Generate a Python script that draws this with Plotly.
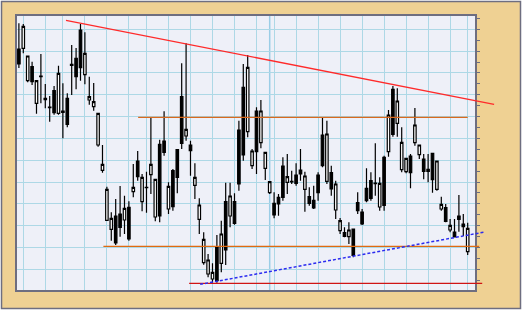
import plotly.graph_objects as go

# ---- data (price units; daily candles, index = trading day) ----
opens = [79.5, 79.7, 70.0, 74.2, 63.2, 71.4, 64.7, 62.1, 67.0, 60.2,
         60.9, 64.7, 74.9, 76.7, 85.2, 71.8, 64.2, 62.2, 50.7, 43.1,
         28.1, 25.4, 29.4, 30.0, 28.2, 32.0, 36.7, 45.9, 33.7, 38.0,
         41.8, 29.1, 50.9, 51.9, 31.5, 43.0, 49.3, 65.2, 53.4, 50.7,
         38.6, 28.4, 15.4, 12.0, 10.5, 20.2, 15.2, 33.7, 29.4, 33.7,
         55.2, 68.0, 54.7, 44.5, 60.9, 51.4, 43.7, 36.4, 33.2, 35.0,
         44.4, 39.5, 39.8, 41.7, 43.2, 37.4, 35.2, 34.1, 41.7, 53.7,
         39.8, 42.4, 31.2, 25.0, 24.4, 23.2, 25.5, 33.4, 30.6, 37.7,
         40.0, 39.3, 32.1, 47.0, 48.7, 67.4, 57.2, 43.3, 42.7, 47.4,
         51.4, 47.8, 46.5, 42.8, 48.2, 37.4, 31.5, 31.9, 25.2, 24.6,
         29.4, 27.0, 18.7]
highs = [87.2, 87.0, 77.5, 75.7, 70.2, 78.0, 69.0, 65.4, 68.4, 74.5,
         69.2, 66.2, 80.7, 79.8, 87.0, 84.5, 71.2, 69.3, 60.2, 50.7,
         38.2, 30.5, 34.5, 38.4, 35.5, 33.8, 45.0, 48.9, 42.0, 42.7,
         58.9, 40.4, 52.3, 60.8, 39.5, 43.5, 49.5, 75.2, 81.2, 52.0,
         45.2, 34.7, 24.5, 18.0, 15.2, 23.7, 28.0, 39.4, 39.4, 36.2,
         58.0, 75.0, 77.7, 49.5, 62.0, 64.2, 48.5, 39.8, 36.5, 36.0,
         47.0, 48.0, 43.0, 45.2, 49.5, 42.7, 38.0, 38.5, 42.5, 59.0,
         58.0, 44.5, 40.0, 28.8, 26.0, 27.5, 25.6, 36.5, 31.5, 43.7,
         42.5, 51.2, 41.0, 47.5, 61.2, 68.4, 67.7, 56.0, 46.8, 48.0,
         61.8, 50.7, 48.0, 48.0, 48.3, 45.9, 35.2, 33.0, 28.5, 28.5,
         35.7, 30.0, 27.4]
lows = [73.8, 78.2, 69.5, 68.7, 60.1, 63.2, 61.7, 57.7, 59.8, 59.8,
        52.7, 56.0, 65.7, 67.4, 70.0, 68.9, 62.8, 61.0, 50.2, 42.4,
        28.0, 22.0, 20.7, 23.2, 24.0, 22.0, 35.0, 40.0, 30.8, 30.4,
        36.0, 27.8, 27.5, 47.5, 30.0, 31.0, 36.2, 49.5, 52.0, 41.5,
        34.5, 24.0, 14.8, 11.0, 9.4, 9.4, 12.5, 14.7, 26.0, 26.8,
        37.0, 46.0, 53.0, 43.5, 42.0, 49.7, 40.2, 36.0, 28.7, 29.5,
        34.0, 36.0, 39.0, 38.5, 40.0, 30.7, 32.5, 31.5, 34.0, 44.0,
        39.0, 35.5, 28.5, 24.0, 23.0, 21.0, 17.0, 30.0, 26.7, 33.5,
        34.0, 35.5, 31.0, 31.0, 47.2, 53.2, 53.2, 42.5, 42.2, 37.7,
        50.5, 46.5, 40.4, 39.5, 36.4, 37.0, 31.0, 27.5, 24.5, 23.0,
        24.7, 23.4, 17.7]
closes = [75.0, 86.3, 77.4, 69.7, 70.0, 71.2, 64.3, 61.9, 60.4, 72.2,
          60.5, 56.9, 74.6, 71.2, 73.9, 78.2, 65.2, 63.7, 60.2, 44.9,
          37.4, 28.7, 21.3, 26.0, 31.7, 22.5, 38.0, 41.2, 41.0, 37.9,
          44.9, 40.4, 29.4, 48.5, 38.3, 32.2, 41.0, 51.2, 55.4, 49.0,
          41.0, 32.7, 22.4, 16.2, 12.5, 10.0, 24.0, 19.2, 35.4, 27.2,
          39.0, 47.7, 74.0, 48.9, 48.7, 60.9, 48.5, 39.7, 29.7, 33.0,
          35.0, 41.2, 39.6, 39.2, 42.0, 41.4, 33.2, 31.8, 36.4, 44.5,
          54.0, 37.5, 39.0, 28.0, 23.3, 25.2, 17.6, 31.0, 27.0, 34.0,
          34.7, 39.1, 39.2, 32.6, 59.7, 53.9, 63.9, 51.5, 46.7, 42.4,
          56.7, 50.7, 42.8, 43.4, 40.3, 45.9, 32.9, 27.8, 26.6, 23.1,
          28.4, 26.2, 25.7]
days = list(range(len(opens)))

# first trading day of each week (vertical grid) and month marker
week_starts = [1, 6, 10, 15, 20, 25, 29, 34, 39, 44, 49, 54, 58, 63, 68,
               73, 78, 83, 88, 93, 98, 102]
month_mark = 57

# drawn studies: (day, price) endpoints
resistance_trend = [(10.7, 88.1), (108.0, 62.9)]
support_trend = [(41.2, 8.9), (105.9, 24.6)]
upper_level = [(27.1, 59.0), (102.0, 59.0)]
lower_level = [(19.2, 20.3), (104.6, 20.3)]
bottom_level = [(38.7, 9.2), (105.3, 9.2)]

# ---- axes ----
x_range = [-0.43, 103.66]
y_range = [7.2, 89.4]
grid0, grid_step = 13.4, 6.545

W, H = 524, 312
ml, mr, mt, mb = 17, 49, 16, 22
pw, ph = W - ml - mr, H - mt - mb


def xp(d):
    return (d - x_range[0]) / (x_range[1] - x_range[0])


def yp(v):
    return (v - y_range[0]) / (y_range[1] - y_range[0])


def pxx(p):  # pixel -> paper x
    return (p - ml) / pw


def pxy(p):  # pixel -> paper y
    return (H - mb - p) / ph


fig = go.Figure()
fig.add_trace(go.Candlestick(
    x=days, open=opens, high=highs, low=lows, close=closes,
    increasing=dict(line=dict(color="black", width=1.2), fillcolor="white"),
    decreasing=dict(line=dict(color="black", width=1.2), fillcolor="black"),
    whiskerwidth=0, hoverinfo="skip", showlegend=False,
))

shapes = []
# outer tan frame
shapes.append(dict(type="rect", xref="paper", yref="paper", layer="below",
                   x0=pxx(1.5), x1=pxx(520.5), y0=pxy(308.5), y1=pxy(1.5),
                   fillcolor="#EFD193", line=dict(color="#6E6E80", width=1.5)))
# plot background
shapes.append(dict(type="rect", xref="paper", yref="paper", layer="below",
                   x0=0, x1=1, y0=0, y1=1, fillcolor="#EEF0F8",
                   line=dict(width=0)))
# month marker line
shapes.append(dict(type="line", xref="x", yref="paper", layer="below",
                   x0=month_mark, x1=month_mark, y0=0, y1=1,
                   line=dict(color="#9ACDE6", width=1.5)))


def seg(pts, color, width, dash="solid"):
    (d0, v0), (d1, v1) = pts
    return dict(type="line", xref="paper", yref="paper", layer="above",
                x0=xp(d0), y0=yp(v0), x1=xp(d1), y1=yp(v1),
                line=dict(color=color, width=width, dash=dash))


shapes.append(seg(upper_level, "#D9691E", 1.3))
shapes.append(seg(lower_level, "#E06A10", 1.3))
shapes.append(seg(bottom_level, "#D01414", 1.3))
shapes.append(seg(resistance_trend, "#FF2A2A", 1.3))
shapes.append(seg(support_trend, "#2B2BF0", 1.5, "3px,2px"))

fig.update_layout(
    width=W, height=H,
    margin=dict(l=ml, r=mr, t=mt, b=mb, pad=0),
    paper_bgcolor="white", plot_bgcolor="#EEF0F8",
    boxgap=0.2,
    shapes=shapes, showlegend=False, hovermode=False,
    xaxis=dict(range=x_range, rangeslider=dict(visible=False),
               tickmode="array", tickvals=week_starts, showticklabels=False,
               ticks="", showgrid=True, gridcolor="#ADD8E6", gridwidth=1,
               zeroline=False, showline=True, mirror=True,
               linecolor="#6E6E80", linewidth=1.5),
    yaxis=dict(range=y_range, side="right", tick0=grid0, dtick=grid_step,
               showticklabels=False, ticks="outside", ticklen=3,
               tickcolor="#6E6E80", tickwidth=1,
               showgrid=True, gridcolor="#ADD8E6", gridwidth=1,
               zeroline=False, showline=True, mirror=True,
               linecolor="#6E6E80", linewidth=1.5,
               minor=dict(tick0=grid0, dtick=grid_step / 2, ticks="outside",
                          ticklen=3, tickcolor="#6E6E80", tickwidth=1,
                          showgrid=False)),
)

fig.write_html("out.html")
